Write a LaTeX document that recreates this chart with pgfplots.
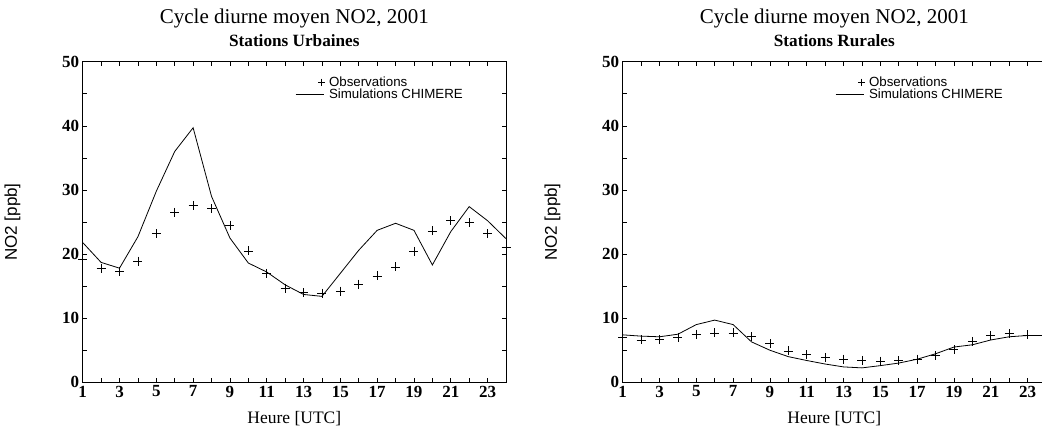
\documentclass[border=0pt]{standalone}
\usepackage{pgfplots}
\pgfplotsset{compat=1.18}
\usepackage{pgfplotstable}
\usepackage{fontspec}
\setmainfont{Liberation Serif}
\newfontfamily\helv{Liberation Sans}

% heure, observations, simulations CHIMERE (ppb)
\pgfplotstableread{
h  obs  sim
1  19.2 21.8
2  17.8 18.7
3  17.3 17.8
4  18.9 22.7
5  23.2 29.8
6  26.5 36.0
7  27.6 39.7
8  27.1 29.0
9  24.5 22.5
10 20.5 18.6
11 17.0 17.2
12 14.7 15.2
13 14.0 13.7
14 13.9 13.4
15 14.2 17.0
16 15.3 20.6
17 16.6 23.7
18 18.0 24.8
19 20.4 23.7
20 23.6 18.3
21 25.2 23.5
22 24.9 27.4
23 23.2 25.2
24 21.1 22.4
}\urbain

\pgfplotstableread{
h  obs  sim
1  7.0  7.4
2  6.6  7.2
3  6.7  7.1
4  7.0  7.5
5  7.5  9.0
6  7.7  9.7
7  7.7  9.0
8  7.1  6.3
9  6.0  5.0
10 4.9  4.0
11 4.3  3.4
12 3.9  2.85
13 3.6  2.4
14 3.4  2.25
15 3.3  2.6
16 3.35 3.0
17 3.6  3.6
18 4.15 4.45
19 5.1  5.5
20 6.4  5.85
21 7.3  6.6
22 7.6  7.1
23 7.4  7.3
24 nan  7.3
}\rural

\pgfplotsset{
    cyc/.style={
        width=423.3pt, height=320.6pt, scale only axis, anchor=south west,
        xmin=1, xmax=24, ymin=0, ymax=50, clip=false,
        xtick={1,3,...,23}, minor xtick={2,4,...,24},
        ytick={0,10,...,50}, minor ytick={5,15,...,45},
        tick align=inside, major tick length=4pt, minor tick length=4pt,
        tick style={black, line width=0.6pt},
        axis line style={line width=0.8pt},
        /pgf/number format/assume math mode=true,
        tick label style={font=\fontsize{17}{17}\selectfont\bfseries},
        xlabel={Heure [UTC]},
        ylabel={NO2 [ppb]},
        xlabel style={font=\fontsize{17.5}{18}\selectfont, at={(axis description cs:0.5,-0.112)}, anchor=center},
        ylabel style={font=\fontsize{17}{18}\selectfont\helv, at={(axis description cs:-0.166,0.5)}, anchor=center},
        legend style={at={(axis description cs:0.5015,0.953)}, anchor=north west, draw=none, fill=none,
            font=\fontsize{13.3}{14}\selectfont\helv, inner sep=0pt, row sep=0pt, column sep=4pt,
            nodes={inner sep=0pt, text height=9.5pt, text depth=3pt}},
        legend cell align=left,
    },
    obsplot/.style={only marks, mark=+, mark size=4.5pt, black, mark options={line width=0.7pt},
        legend image code/.code={\draw[mark=+, mark size=3.5pt, line width=0.6pt] plot coordinates {(26pt,1pt)};}},
    simplot/.style={no marks, black, line width=0.8pt,
        legend image code/.code={\draw[line width=0.7pt] (0pt,1pt) -- (28pt,1pt);}},
}

\begin{document}
\begin{tikzpicture}
    \begin{axis}[cyc, at={(0pt,0pt)}]
        \addplot[obsplot] table[x=h, y=obs] {\urbain};
        \addlegendentry{Observations}
        \addplot[simplot] table[x=h, y=sim] {\urbain};
        \addlegendentry{Simulations CHIMERE}
        \node[anchor=base, font=\fontsize{21}{24}\selectfont, yshift=38.3pt] at (rel axis cs:0.5,1) {Cycle diurne moyen NO2, 2001};
        \node[anchor=base, font=\fontsize{17.2}{18}\selectfont\bfseries, yshift=14.8pt] at (rel axis cs:0.5,1) {Stations Urbaines};
    \end{axis}
    \begin{axis}[cyc, at={(540pt,0pt)}]
        \addplot[obsplot] table[x=h, y=obs] {\rural};
        \addlegendentry{Observations}
        \addplot[simplot] table[x=h, y=sim] {\rural};
        \addlegendentry{Simulations CHIMERE}
        \node[anchor=base, font=\fontsize{21}{24}\selectfont, yshift=38.3pt] at (rel axis cs:0.5,1) {Cycle diurne moyen NO2, 2001};
        \node[anchor=base, font=\fontsize{17.2}{18}\selectfont\bfseries, yshift=14.8pt] at (rel axis cs:0.5,1) {Stations Rurales};
    \end{axis}
    \pgfresetboundingbox
    \path[use as bounding box] (-82.7pt,-48.7pt) rectangle (959.3pt,382.3pt);
\end{tikzpicture}
\end{document}
